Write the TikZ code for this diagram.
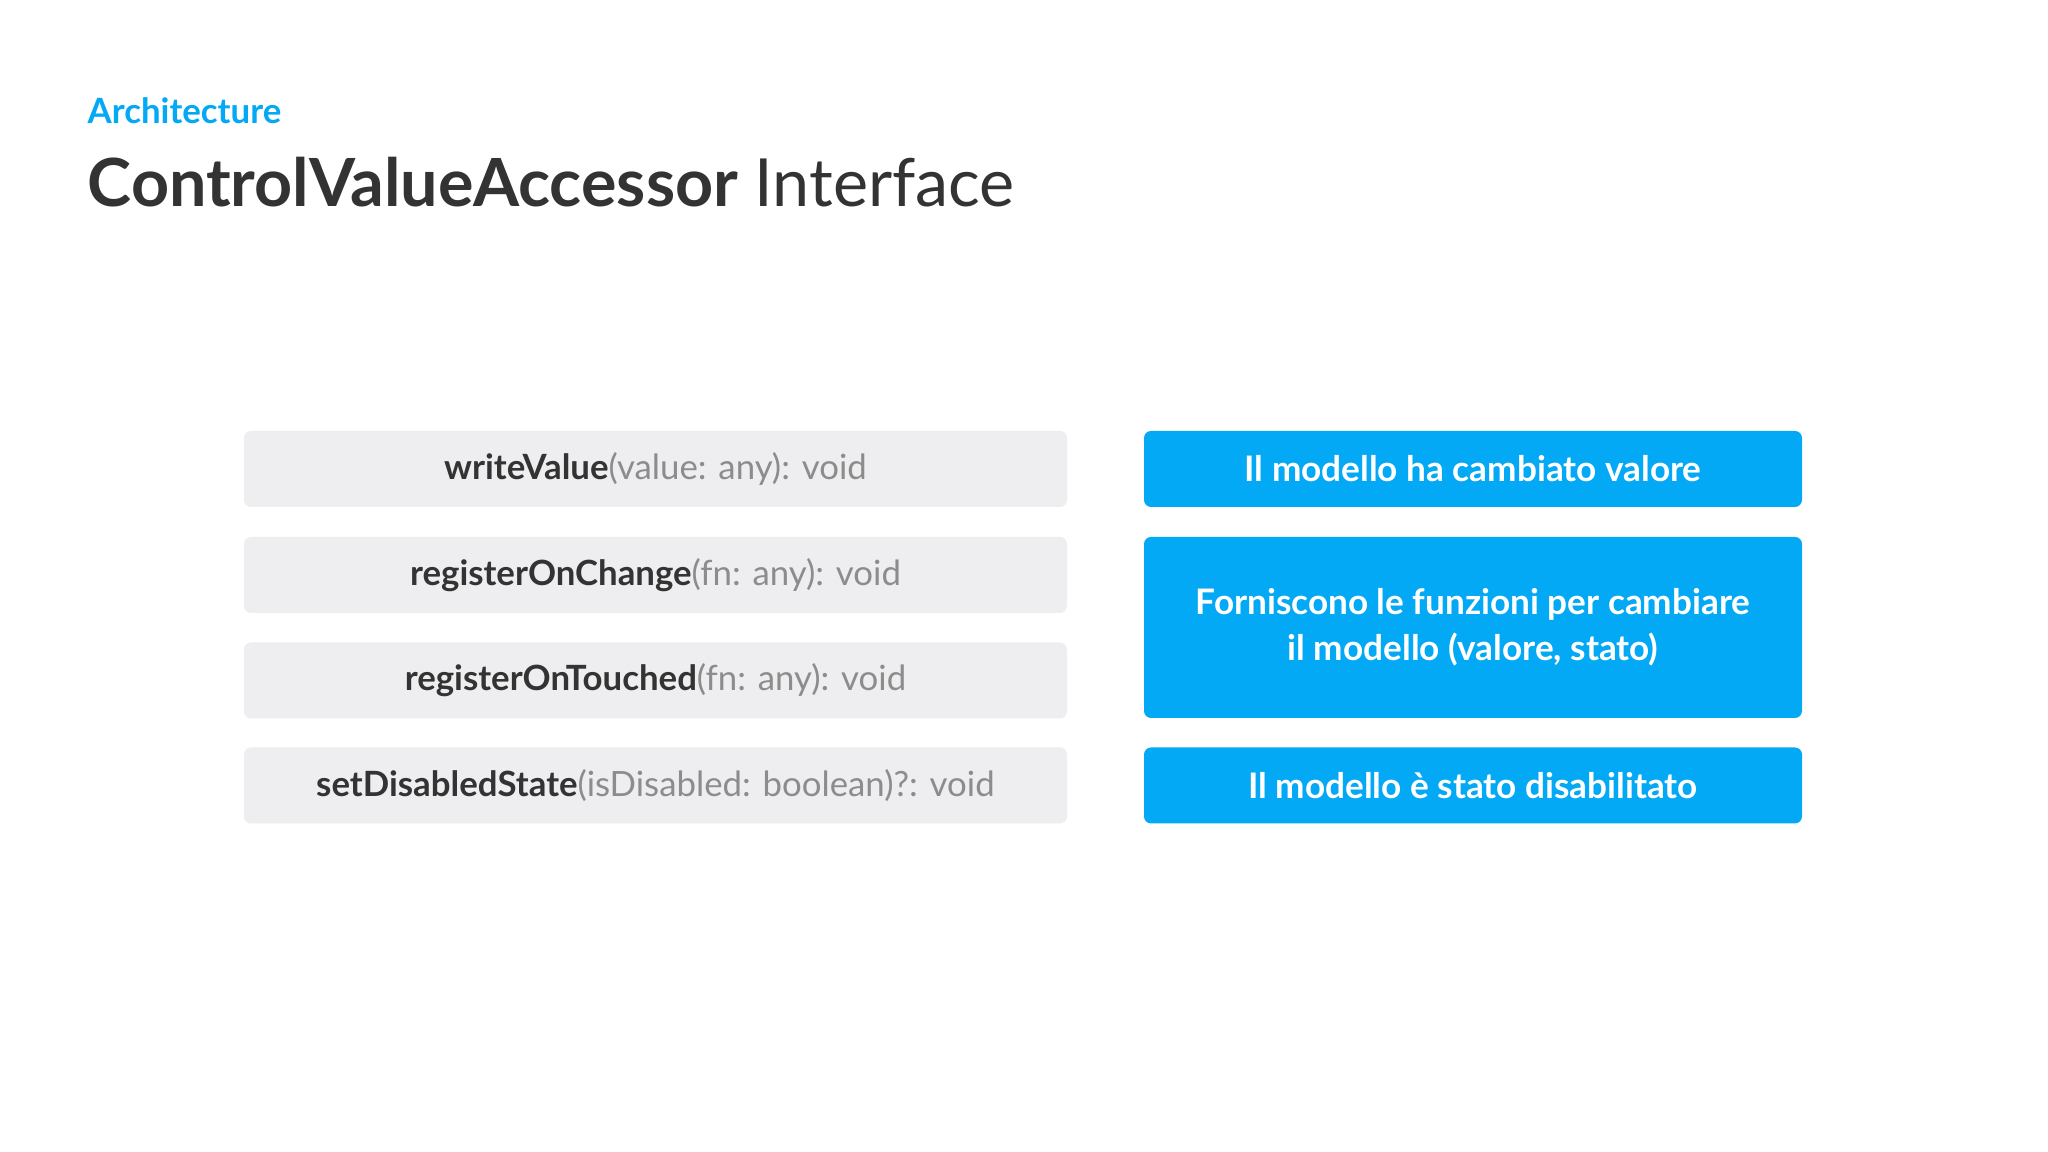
\documentclass[tikz,border=0pt]{standalone}
\usepackage{fontspec}
\setmainfont{Lato}
\usepackage{tikz}

\definecolor{cvablue}{HTML}{03A9F4}
\definecolor{rowgray}{HTML}{EEEDEF}
\definecolor{inkdark}{HTML}{333333}
\definecolor{inkparam}{HTML}{8C8C8C}

\tikzset{
  methodbox/.style={fill=rowgray, rounded corners=2pt, minimum width=8.23cm,
    minimum height=0.76cm, inner sep=0pt, font=\fontsize{9.9}{12}\selectfont},
  notebox/.style={fill=cvablue, rounded corners=2pt, minimum width=6.58cm,
    inner sep=0pt, text=white, align=center, font=\bfseries\fontsize{10}{13}\selectfont}
}
\newcommand{\meth}[2]{\textcolor{inkdark}{\bfseries #1}\textcolor{inkparam}{#2}}

\begin{document}
\begin{tikzpicture}
            \useasboundingbox (0,0) rectangle (20.48,11.52);
            \fill[white] (0,0) rectangle (20.48,11.52);
            % header
            \node[anchor=base west, inner sep=0pt, text=cvablue, font=\bfseries\fontsize{9.9}{12}\selectfont] (section) at (0.87,10.28) {Architecture};
            \node[anchor=base west, inner sep=0pt, text=inkdark, font=\fontsize{18.9}{23}\selectfont] (title) at (0.87,9.45) {\textbf{ControlValueAccessor} Interface};
            % methods
            \node[methodbox] (write) at (6.555,6.83) {\meth{writeValue}{(value: any): void}};
            \node[methodbox] (change) at (6.555,5.77) {\meth{registerOnChange}{(fn: any): void}};
            \node[methodbox] (touched) at (6.555,4.715) {\meth{registerOnTouched}{(fn: any): void}};
            \node[methodbox] (disabled) at (6.555,3.665) {\meth{setDisabledState}{(isDisabled: boolean)?: void}};
            % notes
            \node[notebox, minimum height=0.76cm] (valnote) at (14.73,6.83) {Il modello ha cambiato valore};
            \node[notebox, minimum height=1.81cm] (fnnote) at (14.73,5.245) {Forniscono le funzioni per cambiare\\il modello (valore, stato)};
            \node[notebox, minimum height=0.76cm] (disnote) at (14.73,3.665) {Il modello è stato disabilitato};
        \end{tikzpicture}
\end{document}
